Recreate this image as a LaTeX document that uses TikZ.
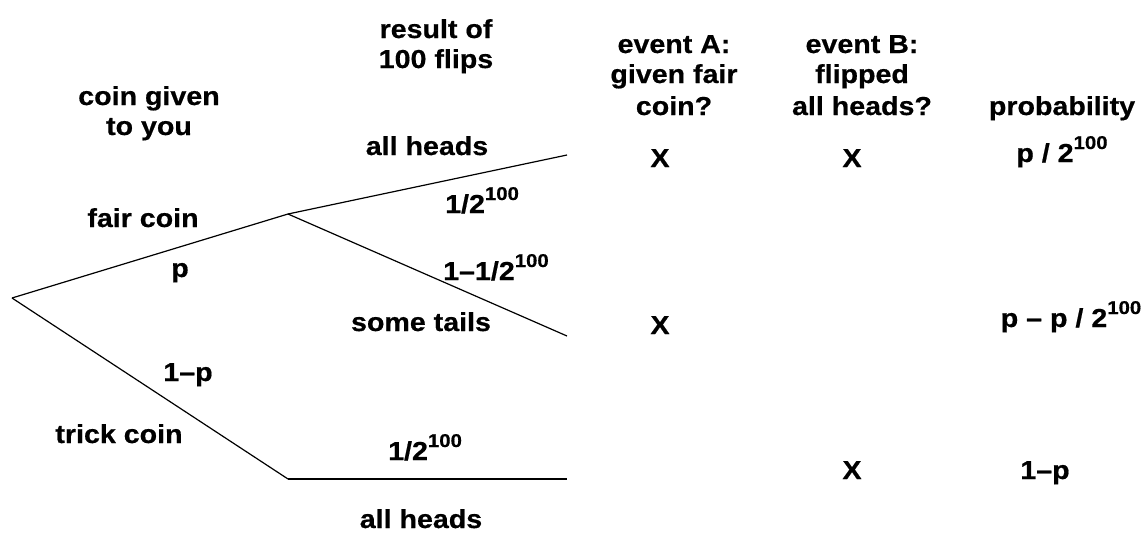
\documentclass[tikz,border=0pt]{standalone}
\usepackage{fontspec}
\setmainfont[FakeStretch=1.1,BoldFeatures={FakeBold=0.6}]{Liberation Sans}
\newcommand\supnum[1]{\raisebox{13pt}{\fontsize{18.5}{18.5}\selectfont #1}}
\begin{document}
\begin{tikzpicture}[x=1pt,y=-1pt,
  tx/.style={font=\fontsize{26}{26}\selectfont\bfseries, inner sep=0pt, anchor=base},
  txw/.style={tx, anchor=base west},
  br/.style={line width=1.2pt}]
\useasboundingbox (0,0) rectangle (1146,533);
% tree
\coordinate (root) at (12,298);
\coordinate (fair) at (288,214);
\coordinate (hh) at (567,155);
\coordinate (tt) at (567,336);
\coordinate (trick) at (288,479);
\coordinate (th) at (567,479);
\draw[br] (root) -- (fair);
\draw[br] (fair) -- (hh);
\draw[br] (fair) -- (tt);
\draw[br] (root) -- (trick);
\draw[br] (trick) -- (th);
% headers
\node[tx] (h1a) at (149,105) {coin given};
\node[tx] (h1b) at (149,135) {to you};
\node[tx] (h2a) at (436,38) {result of};
\node[tx] (h2b) at (436,68) {100 flips};
\node[tx] (h3a) at (674,53) {event A:};
\node[tx] (h3b) at (674,83) {given fair};
\node[tx] (h3c) at (674,115) {coin?};
\node[tx] (h4a) at (862,53) {event B:};
\node[tx] (h4b) at (862,83) {flipped};
\node[tx] (h4c) at (862,115) {all heads?};
\node[tx] (h5) at (1062,115) {probability};
% branch labels
\node[tx] (allh1) at (427,155) {all heads};
\node[txw] (q1) at (445,213) {1/2\supnum{100}};
\node[tx] (fc) at (143,227) {fair coin};
\node[tx] (pp) at (180,277) {p};
\node[txw] (q2) at (443,280) {1–1/2\supnum{100}};
\node[tx] (st) at (421,331) {some tails};
\node[tx] (omp) at (188,381) {1–p};
\node[tx] (tc) at (119,443) {trick coin};
\node[txw] (q3) at (388,460) {1/2\supnum{100}};
\node[tx] (allh2) at (421,528) {all heads};
% table
\node[tx] (xa1) at (660,167) {X};
\node[tx] (xb1) at (852,167) {X};
\node[tx] (pr1) at (1062,162) {p / 2\supnum{100}};
\node[tx] (xa2) at (660,334) {X};
\node[tx] (pr2) at (1071,327) {p – p / 2\supnum{100}};
\node[tx] (xb3) at (852,479) {X};
\node[tx] (pr3) at (1045,479) {1–p};
\end{tikzpicture}
\end{document}
